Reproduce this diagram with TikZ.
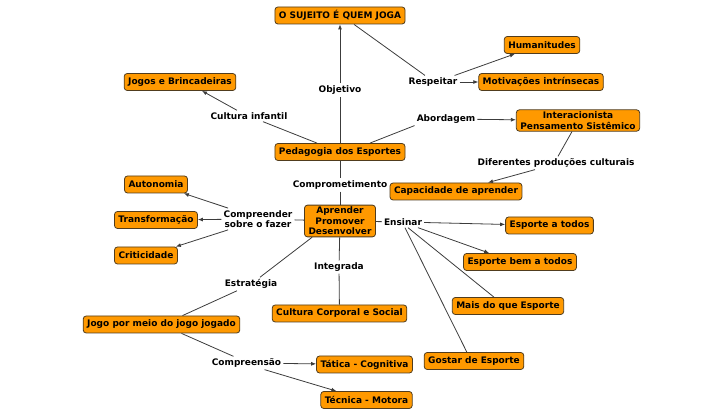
\documentclass[tikz,border=0pt]{standalone}
\usepackage{fontspec}
\setmainfont{DejaVu Sans}
\usetikzlibrary{arrows.meta}
\definecolor{boxfill}{RGB}{255,153,0}
\definecolor{boxline}{RGB}{80,60,30}
\definecolor{edge}{RGB}{60,60,60}
\tikzset{
  concept/.style={draw=boxline, fill=boxfill, rounded corners=3pt, line width=0.8pt,
    font=\fontsize{9}{10.4}\selectfont\bfseries, inner xsep=4pt, inner ysep=2pt,
    minimum height=17pt, align=center, text=black},
  linkph/.style={font=\fontsize{9}{10.4}\selectfont\bfseries, inner sep=2pt, align=center, text=black},
  conn/.style={draw=edge, line width=0.8pt},
  arr/.style={conn, -{Latex[length=5pt,width=4pt]}}
}
\begin{document}
\begin{tikzpicture}[x=1pt,y=-1pt]
\useasboundingbox (0,0) rectangle (724,411);
% concepts
\node[concept] (sujeito) at (340,15.5) {O SUJEITO É QUEM JOGA};
\node[concept] (jogos) at (180,82) {Jogos e Brincadeiras};
\node[concept] (human) at (542,45) {Humanitudes};
\node[concept] (motiv) at (541,82) {Motivações intrínsecas};
\node[concept] (inter) at (578,120.5) {Interacionista\\Pensamento Sistêmico};
\node[concept] (capac) at (456,191.5) {Capacidade de aprender};
\node[concept] (pedag) at (340,152) {Pedagogia dos Esportes};
\node[concept] (auton) at (156,184.5) {Autonomia};
\node[concept] (transf) at (156,220) {Transformação};
\node[concept] (critic) at (146,255.5) {Criticidade};
\node[concept] (aprender) at (340,221) {Aprender\\Promover\\Desenvolver};
\node[concept] (etodos) at (549.5,225.5) {Esporte a todos};
\node[concept] (ebem) at (520,262) {Esporte bem a todos};
\node[concept] (mais) at (508,306) {Mais do que Esporte};
\node[concept] (gostar) at (474,361) {Gostar de Esporte};
\node[concept] (cultura) at (339.5,313.5) {Cultura Corporal e Social};
\node[concept] (jogo) at (161.5,324.5) {Jogo por meio do jogo jogado};
\node[concept] (tatica) at (364.5,364.5) {Tática - Cognitiva};
\node[concept] (tecnica) at (366.5,400) {Técnica - Motora};
% linking phrases
\node[linkph] (objetivo) at (340,90) {Objetivo};
\node[linkph] (cinf) at (249,116) {Cultura infantil};
\node[linkph] (respeitar) at (433,82) {Respeitar};
\node[linkph] (abord) at (446,119) {Abordagem};
\node[linkph] (difer) at (556,163) {Diferentes produções culturais};
\node[linkph] (compr) at (340,185) {Comprometimento};
\node[linkph] (comprf) at (258,219) {Compreender\\sobre o fazer};
\node[linkph] (ensinar) at (403,222) {Ensinar};
\node[linkph] (integ) at (339,267) {Integrada};
\node[linkph] (estrat) at (251,284) {Estratégia};
\node[linkph] (comprs) at (246.5,363) {Compreensão};
% connectors
\draw[conn] (pedag) -- (objetivo);
\draw[arr] (objetivo) -- (sujeito);
\draw[conn] ([xshift=14pt]sujeito.south) -- ([xshift=-8pt]respeitar.north);
\draw[arr] ([xshift=-5pt]respeitar.north east) -- ([xshift=11pt]human.south west);
\draw[arr] (respeitar) -- (motiv);
\draw[conn] ([xshift=-23pt]pedag.north) -- ([xshift=14pt]cinf.south);
\draw[arr] ([xshift=-12pt]cinf.north) -- ([xshift=22pt]jogos.south);
\draw[conn] ([xshift=30pt]pedag.north) -- (abord.south west);
\draw[arr] (abord) -- (inter);
\draw[conn] ([xshift=-6pt]inter.south) -- ([xshift=2pt]difer.north);
\draw[arr] ([xshift=-21pt]difer.south) -- ([xshift=32pt]capac.north);
\draw[conn] (pedag) -- (compr);
\draw[conn] (compr) -- (aprender);
\draw[conn] (aprender) -- (comprf);
\draw[arr] (comprf.160) -- ([xshift=-4pt]auton.south east);
\draw[arr] (comprf) -- (transf);
\draw[arr] (comprf.-160) -- ([xshift=-2pt]critic.north east);
\draw[conn] (aprender) -- (ensinar);
\draw[arr] (ensinar) -- (etodos);
\draw[arr] ([xshift=15pt]ensinar.south) -- ([xshift=26pt]ebem.north west);
\draw[conn] ([xshift=5pt]ensinar.south) -- ([xshift=42pt]mais.north west);
\draw[conn] ([xshift=2pt]ensinar.south) -- ([xshift=43pt]gostar.north west);
\draw[conn] (aprender) -- (integ);
\draw[conn] (integ) -- (cultura);
\draw[conn] ([xshift=8pt]aprender.south west) -- ([xshift=9pt]estrat.north);
\draw[conn] ([xshift=-14pt]estrat.south) -- ([xshift=21pt]jogo.north);
\draw[conn] ([xshift=20pt]jogo.south) -- ([xshift=-13pt]comprs.north);
\draw[arr] (comprs) -- (tatica);
\draw[arr] ([xshift=18pt]comprs.south) -- ([xshift=16pt]tecnica.north west);
\end{tikzpicture}
\end{document}
